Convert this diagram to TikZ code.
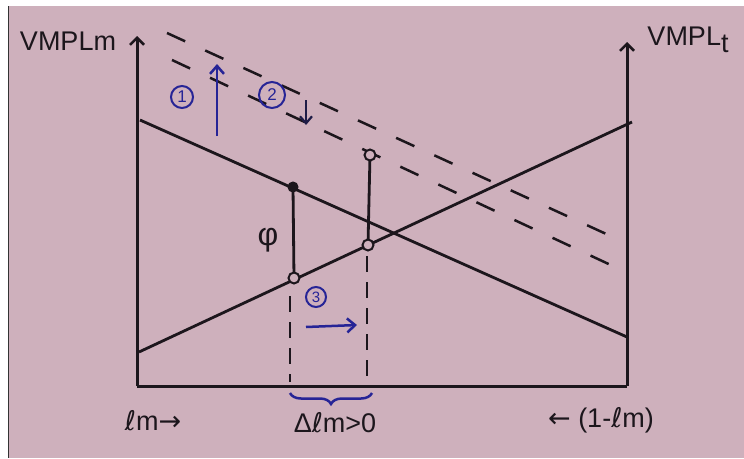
\documentclass[tikz,border=0pt]{standalone}
\usepackage{fontspec}
\setmainfont{Liberation Sans}
\newfontfamily\symf{DejaVu Sans}
\usetikzlibrary{decorations.pathreplacing,arrows.meta}
\definecolor{paper}{RGB}{206,176,188}
\definecolor{ink}{RGB}{28,22,28}
\definecolor{pen}{RGB}{38,36,150}
\definecolor{darkpen}{RGB}{30,28,70}
\begin{document}
\begin{tikzpicture}[x=1pt,y=-1pt,
  axis/.style={ink,line width=3pt},
  line/.style={ink,line width=2.8pt},
  dline/.style={ink,line width=2.5pt,dash pattern=on 20pt off 22pt},
  vdash/.style={ink,line width=2.2pt,dash pattern=on 16pt off 10pt},
  dot/.style={circle,draw=ink,fill=ink,line width=1pt,inner sep=0pt,minimum size=10pt},
  hollow/.style={circle,draw=ink,line width=2pt,fill=paper,inner sep=0pt,minimum size=11pt},
  circnum/.style={circle,draw=pen,text=pen,line width=2pt,inner sep=0pt,font=\fontsize{17}{17}\selectfont},
  lbl/.style={text=ink,font=\fontsize{27}{30}\selectfont,inner sep=0pt},
  bluearrow/.style={pen,line width=2.5pt,-{Straight Barb[length=8pt,width=14pt,line width=2.5pt]}},
  caret/.style={-{Straight Barb[length=7pt,width=14pt,line width=2.5pt]}},
]
\useasboundingbox (0,0) rectangle (744,458);
\fill[white] (0,0) rectangle (744,458);
\fill[paper] (8,6) rectangle (744,458);
\draw[gray!40!black,line width=1pt] (8,6) -- (8,458);

% axes
\coordinate (Ltop) at (137,36);
\coordinate (O) at (137,386);
\coordinate (R) at (627,386);
\coordinate (Rtop) at (627,42);
\draw[axis,caret] (O) -- (Ltop);
\draw[axis,caret] (R) -- (Rtop);
\draw[axis] (O) -- (R);

% solid lines
\coordinate (m1) at (140,120);
\coordinate (m2) at (627,337);
\coordinate (t1) at (139,352);
\coordinate (t2) at (632,122);
\draw[line] (m1) -- (m2);
\draw[line] (t1) -- (t2);

% dashed lines
\coordinate (d1a) at (167,33);
\coordinate (d1b) at (615,238);
\coordinate (d2a) at (172,60);
\coordinate (d2b) at (615,267);
\draw[dline] (d1a) -- (d1b);
\draw[dline] (d2a) -- (d2b);

% points and verticals
\coordinate (A) at (293,187);
\coordinate (B) at (294,278);
\coordinate (C) at (370,155);
\coordinate (D) at (368,245);
\draw[line] (A) -- (B);
\draw[line] (C) -- (D);
\coordinate (Bd) at (290,296);
\coordinate (Bo) at (290,382);
\coordinate (Dd) at (367,256);
\coordinate (Do) at (367,382);
\draw[vdash] (Bd) -- (Bo);
\draw[vdash] (Dd) -- (Do);
\node[dot] (pA) at (A) {};
\node[hollow] (pB) at (B) {};
\node[hollow] (pC) at (C) {};
\node[hollow] (pD) at (D) {};

% brace
\coordinate (br1) at (290,393);
\coordinate (br2) at (372,393);
\draw[pen,line width=2.5pt,decorate,decoration={brace,mirror,amplitude=11pt}] (br1) -- (br2);

% labels
\node[lbl] (vm) at (68,41) {VMPLm};
\node[lbl] (vt) at (688,40) {VMPL\raisebox{-7pt}{t}};
\node[lbl,font=\fontsize{32}{34}\selectfont] (phi) at (268,240) {φ};
\node[lbl] (lm) at (153,421) {{\symf ℓ}m{\symf →}};
\node[lbl] (dlm) at (335,423) {Δ{\symf ℓ}m>0};
\node[lbl] (olm) at (601,420) {{\symf ←} (1-{\symf ℓ}m)};

% blue annotations
\node[circnum,minimum size=22pt] (c1) at (182,97) {1};
\node[circnum,minimum size=26pt] (c2) at (272,95) {2};
\node[circnum,minimum size=20pt,font=\fontsize{15}{15}\selectfont] (c3) at (316,297) {3};
\coordinate (u1) at (217,136);
\coordinate (u2) at (217,64);
\draw[bluearrow] (u1) -- (u2);
\coordinate (s1) at (306,100);
\coordinate (s2) at (306,125);
\draw[darkpen,line width=2.2pt,-{Straight Barb[length=7pt,width=12pt,line width=2.2pt]}] (s1) -- (s2);
\coordinate (r1) at (306,327);
\coordinate (r2) at (357,325);
\draw[bluearrow] (r1) -- (r2);
\end{tikzpicture}
\end{document}
